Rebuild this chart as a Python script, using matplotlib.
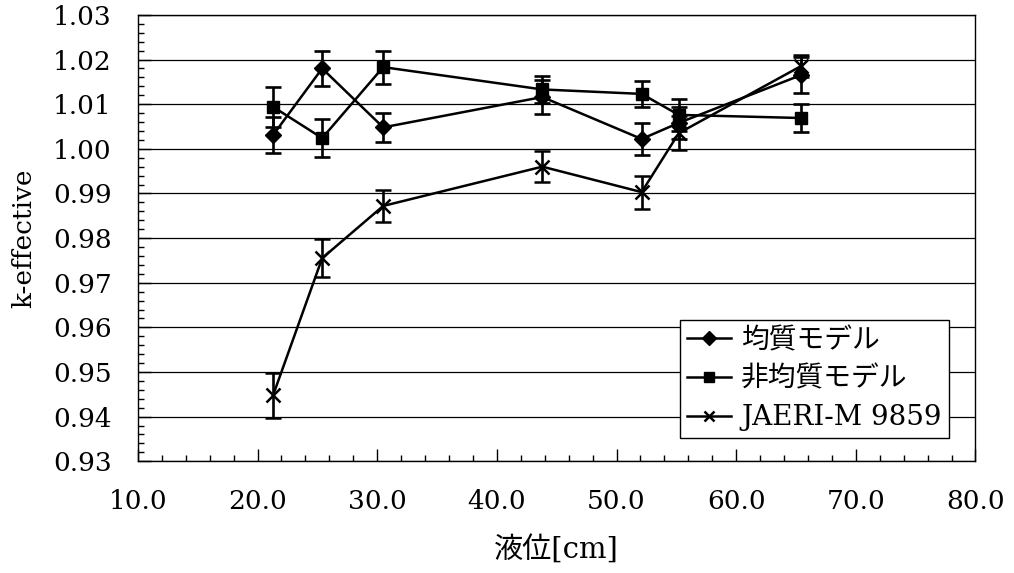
import matplotlib as mpl

mpl.use("Agg")

import matplotlib.pyplot as plt
from matplotlib.ticker import FixedLocator, MultipleLocator, FormatStrFormatter

FONTS = ["DejaVu Serif", "Noto Sans CJK JP"]

# liquid level [cm], shared by the three series
level = [21.3, 25.4, 30.5, 43.8, 52.1, 55.2, 65.4]

homog = [1.0031, 1.0180, 1.0048, 1.0116, 1.0022, 1.0058, 1.0165]
homog_err = [0.0041, 0.0040, 0.0032, 0.0038, 0.0036, 0.0035, 0.0040]

hetero = [1.0094, 1.0024, 1.0183, 1.0133, 1.0123, 1.0076, 1.0069]
hetero_err = [0.0045, 0.0043, 0.0037, 0.0030, 0.0030, 0.0035, 0.0031]

jaeri = [0.9448, 0.9755, 0.9872, 0.9960, 0.9903, 1.0035, 1.0185]
jaeri_err = [0.0050, 0.0043, 0.0035, 0.0034, 0.0037, 0.0038, 0.0025]

series_names = ["均質モデル", "非均質モデル", "JAERI-M 9859"]

x_ticks = [10, 20, 30, 40, 50, 60, 70, 80]
y_ticks = [0.93, 0.94, 0.95, 0.96, 0.97, 0.98, 0.99, 1.00, 1.01, 1.02, 1.03]

plt.rcParams["font.family"] = FONTS

fig = plt.figure(figsize=(10.14, 5.73), dpi=100)
ax = fig.add_axes([0.136, 0.195, 0.826, 0.779])

err_kw = dict(color="black", lw=1.8, elinewidth=1.9, capsize=5.5, capthick=1.9)
c1 = ax.errorbar(level, homog, yerr=homog_err, marker="D", ms=8, **err_kw)
c2 = ax.errorbar(level, hetero, yerr=hetero_err, marker="s", ms=8, **err_kw)
c3 = ax.errorbar(level, jaeri, yerr=jaeri_err, marker="x", ms=10, mew=1.8, **err_kw)

ax.set_xlim(x_ticks[0], x_ticks[-1])
ax.set_ylim(y_ticks[0], y_ticks[-1])
ax.xaxis.set_major_locator(FixedLocator(x_ticks))
ax.xaxis.set_minor_locator(MultipleLocator(2))
ax.yaxis.set_major_locator(FixedLocator(y_ticks))
ax.yaxis.set_minor_locator(MultipleLocator(0.002))
ax.xaxis.set_major_formatter(FormatStrFormatter("%.1f"))
ax.yaxis.set_major_formatter(FormatStrFormatter("%.2f"))

ax.grid(axis="y", which="major", color="black", lw=0.9)
ax.tick_params(which="both", direction="in", color="black", width=1.0)
ax.tick_params(which="major", length=9, labelsize=19)
ax.tick_params(which="minor", length=4)
ax.tick_params(axis="x", which="major", pad=20)
ax.tick_params(axis="y", which="major", pad=19)
for spine in ax.spines.values():
    spine.set_linewidth(1.0)
    spine.set_color("black")

ax.set_xlabel("液位[cm]", fontsize=21, labelpad=15)
ax.set_ylabel("k-effective", fontsize=19, labelpad=12)

leg = ax.legend(
    handles=[c1[0], c2[0], c3[0]],
    labels=series_names,
    loc="lower right",
    bbox_to_anchor=(0.968, 0.0516),
    fontsize=20,
    frameon=True,
    fancybox=False,
    edgecolor="black",
    framealpha=1,
    handlelength=1.6,
    handletextpad=0.35,
    labelspacing=0.42,
    borderpad=0.25,
    borderaxespad=0,
)
leg.get_frame().set_linewidth(1.0)
for handle in leg.legend_handles:
    handle.set_markersize(7)

fig.savefig("out.png", dpi=100)
